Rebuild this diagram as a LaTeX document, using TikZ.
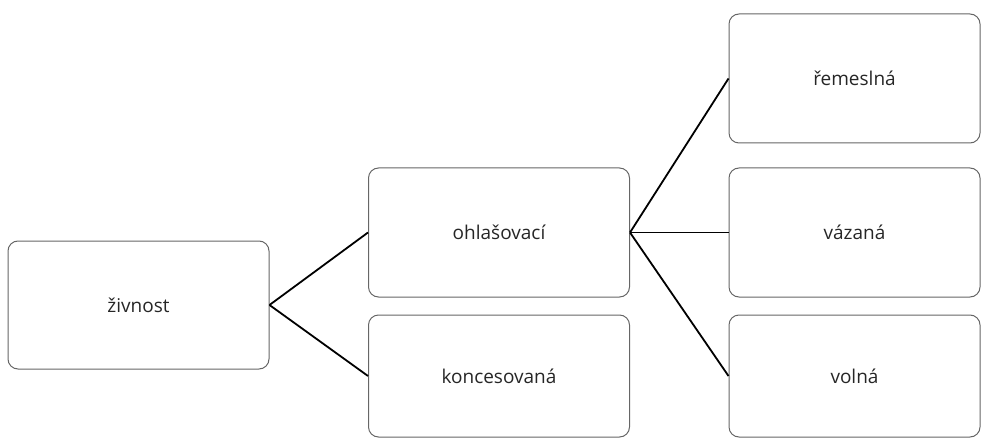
\documentclass[tikz,border=0pt]{standalone}
\usepackage{fontspec}
\setmainfont{Open Sans}
\usepackage{tikz}

\begin{document}
\begin{tikzpicture}[x=1pt, y=-1pt,
    box/.style={draw=black!60, line width=1pt, rounded corners=10pt,
      minimum width=261pt, minimum height=128pt, inner sep=0pt,
      text=black!85, font=\fontsize{19}{21}\selectfont},
    link/.style={line width=1.8pt, black}]
        \useasboundingbox (0, 0) rectangle (981, 438);

        % Root box.
        \node[box] (zivnost) at (138.5, 305.0) {živnost};

        % Second level.
        \node[box, minimum height=129pt] (ohlasovaci) at (499.0, 232.5) {ohlašovací};
        \node[box, minimum height=122pt] (koncesovana) at (499.0, 376.0) {koncesovaná};

        % Third level.
        \node[box, minimum width=251pt, minimum height=129pt] (remeslna) at (854.5, 78.5) {řemeslná};
        \node[box, minimum width=251pt, minimum height=129pt] (vazana) at (854.5, 232.5) {vázaná};
        \node[box, minimum width=251pt, minimum height=122pt] (volna) at (854.5, 376.0) {volná};

        % Connectors.
        \draw[link] (zivnost.east) -- (ohlasovaci.west);
        \draw[link] (zivnost.east) -- (koncesovana.west);
        \foreach \n in {remeslna, vazana, volna} {
          \draw[link] (ohlasovaci.east) -- (\n.west);
        }
\end{tikzpicture}
\end{document}
